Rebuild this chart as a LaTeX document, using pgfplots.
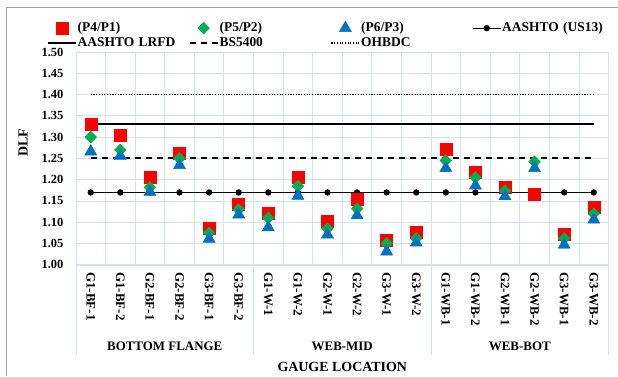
\documentclass[border=0pt]{standalone}
\usepackage{fontspec}
\setmainfont{Liberation Serif}
\usepackage{pgfplots}
\pgfplotsset{compat=1.18}
\usepackage{pgfplotstable}

\definecolor{gridblue}{RGB}{214,226,242}
\definecolor{pred}{RGB}{255,0,0}
\definecolor{pgreen}{RGB}{0,176,80}
\definecolor{pblue}{RGB}{0,112,192}
\definecolor{framegray}{RGB}{160,160,160}

% DLF per gauge (x = gauge index 0..17)
\pgfplotstableread{
x  p41    p52    p63
0  1.330  1.300  1.266
1  1.305  1.270  1.256
2  1.205  1.182  1.171
3  1.262  1.250  1.234
4  1.085  1.075  1.061
5  1.142  1.130  1.118
6  1.122  1.110  1.088
7  1.205  1.185  1.162
8  1.103  1.085  1.071
9  1.155  1.132  1.116
10 1.057  1.050  1.031
11 1.077  1.062  1.052
12 1.272  1.245  1.227
13 1.218  1.205  1.186
14 1.182  1.174  1.161
15 1.166  1.242  1.227
16 1.071  1.062  1.047
17 1.136  1.120  1.106
}\dlfdata

% AASHTO (US13) constant value at every gauge
\pgfplotstableread{
x  v
0  1.17
1  1.17
2  1.17
3  1.17
4  1.17
5  1.17
6  1.17
7  1.17
8  1.17
9  1.17
10 1.17
11 1.17
12 1.17
13 1.17
14 1.17
15 1.17
16 1.17
17 1.17
}\usdata

\begin{document}
\begin{tikzpicture}
\pgfplotsset{
  legend image code/.code={%
    \draw[mark repeat=2,mark phase=2,#1] plot coordinates {(0bp,0bp) (14bp,0bp) (28bp,0bp)};},
}
\begin{axis}[
  at={(0,0)}, anchor=south west,
  scale only axis, width=533bp, height=213bp,
  xmin=-0.5, xmax=17.5, ymin=1.0, ymax=1.5,
  clip=false,
  axis line style={draw=gridblue},
  major tick length=0pt, minor tick length=0pt,
  ytick={1.00,1.05,1.10,1.15,1.20,1.25,1.30,1.35,1.40,1.45,1.50},
  ymajorgrids,
  xtick={0,...,17},
  xticklabels={G1-BF-1,G1-BF-2,G2-BF-1,G2-BF-2,G3-BF-1,G3-BF-2,
               G1-W-1,G1-W-2,G2-W-1,G2-W-2,G3-W-1,G3-W-2,
               G1-WB-1,G1-WB-2,G2-WB-1,G2-WB-2,G3-WB-1,G3-WB-2},
  minor xtick={-0.5,0.5,...,17.5},
  xminorgrids,
  grid style={draw=gridblue, line width=0.8bp},
  minor grid style={draw=gridblue, line width=0.8bp},
  /pgf/number format/assume math mode=true,
  yticklabel style={font=\fontsize{12.5}{14}\selectfont\bfseries, xshift=-9bp,
    /pgf/number format/fixed, /pgf/number format/fixed zerofill,
    /pgf/number format/precision=2},
  xticklabel style={font=\fontsize{13}{15}\selectfont\bfseries, rotate=-90, anchor=west},
  xticklabel shift=4bp,
  ylabel={DLF},
  ylabel style={font=\fontsize{14}{16}\selectfont\bfseries,
    at={([xshift=-53bp]rel axis cs:0,0.573)}, anchor=center},
  xlabel={GAUGE LOCATION},
  xlabel style={font=\fontsize{14}{16}\selectfont\bfseries,
    at={([yshift=-102bp]rel axis cs:0.5,0)}, anchor=center},
  legend columns=4,
  legend cell align=left,
  legend style={draw=none, fill=none, inner sep=0pt, outer sep=0pt,
    column sep=0pt, row sep=0pt,
    font=\fontsize{13.5}{15}\selectfont\bfseries,
    at={(rel axis cs:0,1)}, anchor=south west, xshift=-29bp, yshift=1.5bp,
    nodes={text width=110bp, inner xsep=1bp, inner ysep=1.2bp,
           text height=9.5bp, text depth=3bp, align=left}},
]
% reference lines
\addplot[black, line width=1.1bp, mark=*, mark size=2.6bp, forget plot]
  table[x=x, y=v] {\usdata};
\addplot[black, line width=1.8bp, forget plot] coordinates {(0,1.33) (17,1.33)};
\addplot[black, line width=2bp, dash pattern=on 6bp off 5bp, forget plot]
  coordinates {(0,1.25) (17,1.25)};
\addplot[black, line width=1.7bp, dash pattern=on 1.2bp off 1.5bp, forget plot]
  coordinates {(0,1.40) (17,1.40)};

% measured ratios
\addplot[only marks, mark=square*, mark size=6bp, color=pred]
  table[x=x, y=p41] {\dlfdata};
\addlegendentry{(P4/P1)}
\addplot[only marks, mark=diamond*, mark size=6bp, color=pgreen,
  mark options={xscale=1.3}]
  table[x=x, y=p52] {\dlfdata};
\addlegendentry{(P5/P2)}
\addplot[only marks, mark=triangle*, mark size=7bp, color=pblue]
  table[x=x, y=p63] {\dlfdata};
\addlegendentry{(P6/P3)}

\addlegendimage{black, line width=1.1bp, mark=*, mark size=2.6bp}
\addlegendentry{AASHTO (US13)}
\addlegendimage{black, line width=1.8bp}
\addlegendentry{AASHTO LRFD}
\addlegendimage{black, line width=2bp, dash pattern=on 6bp off 5bp}
\addlegendentry{BS5400}
\addlegendimage{black, line width=1.7bp, dash pattern=on 1.2bp off 1.5bp}
\addlegendentry{OHBDC}

% group separators and group names
\pgfplotsinvokeforeach{-0.5,5.5,11.5,17.5}{
  \draw[gridblue, line width=0.8bp] (axis cs:#1,1.0) -- ([yshift=-90bp]axis cs:#1,1.0);
}
\node[font=\fontsize{13}{15}\selectfont\bfseries] at ([yshift=-82bp]axis cs:2.5,1.0) {BOTTOM FLANGE};
\node[font=\fontsize{13}{15}\selectfont\bfseries] at ([yshift=-82bp]axis cs:8.5,1.0) {WEB-MID};
\node[font=\fontsize{13}{15}\selectfont\bfseries] at ([yshift=-82bp]axis cs:14.5,1.0) {WEB-BOT};
\end{axis}
% chart frame
\draw[framegray, line width=0.9bp] (-70bp,-111bp) -- (-70bp,258bp) -- (542bp,258bp);
\path[use as bounding box] (-76bp,-111bp) rectangle (542bp,265bp);
\end{tikzpicture}
\end{document}
